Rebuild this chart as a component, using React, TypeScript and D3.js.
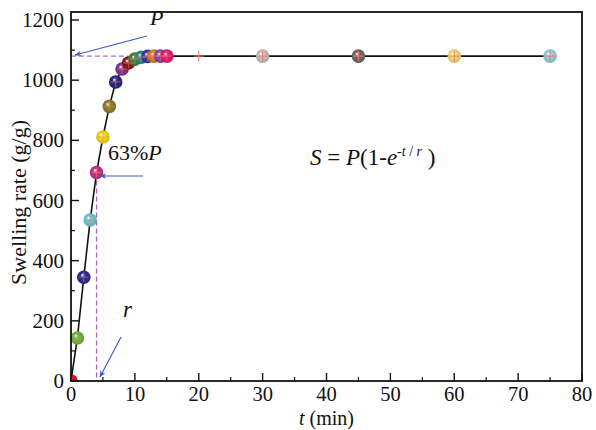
import React from "react";
import * as d3 from "d3";

const times = [0, 1, 2, 3, 4, 5, 6, 7, 8, 9, 10, 11, 12, 13, 14, 15, 20, 30, 45, 60, 75];
const swelling = [0, 143, 345, 535, 693, 811, 913, 994, 1037, 1057, 1070, 1076, 1079, 1080, 1080, 1080, 1080, 1080, 1080, 1080, 1080];
const ballColors = [
  "#e8191c", "#74c043", "#2e2f96", "#6fd0dc", "#c8358f", "#f8e21c", "#8f8431",
  "#2b2a86", "#8c3596", "#8e1a22", "#3f8a3a", "#2b8c8c", "#3c3ca6", "#f0821e",
  "#8a4db4", "#ec1d7a", "#ffffff", "#c9c9c9", "#6e6e6e", "#f7e77a", "#9fd7ea",
];
const xTicks = [0, 10, 20, 30, 40, 50, 60, 70, 80];
const yTicks = [0, 200, 400, 600, 800, 1000, 1200];
const xMinor = [5, 15, 25, 35, 45, 55, 65, 75];
const yMinor = [100, 300, 500, 700, 900, 1100];
const P = 1080;
const rTime = 4;
const S63 = 693;

const W = 596;
const H = 430;
const L = 71;
const R = 582;
const T = 12;
const B = 381;

export default function App() {
  const x = d3.scaleLinear().domain([0, 80]).range([L, R]);
  const y = d3.scaleLinear().domain([0, 1200]).range([B, 20]);
  const line = d3
    .line<number>()
    .x((_, i) => x(times[i]))
    .y((d) => y(d));
  const font = "'Liberation Serif', 'Times New Roman', serif";
  const rBall = 6.8;
  return (
    <svg
      width={W}
      height={H}
      style={{ position: "absolute", left: 0, top: 0, background: "#fff" }}
      fontFamily={font}
    >
      <defs>
        <clipPath id="plot">
          <rect x={L} y={T} width={R - L} height={B - T} />
        </clipPath>
        {ballColors.map((c, i) => (
          <radialGradient key={i} id={`ball${i}`} cx="50%" cy="50%" r="55%" fx="38%" fy="32%">
            <stop offset="0%" stopColor="#ffffff" stopOpacity={0.9} />
            <stop offset="30%" stopColor={c} />
            <stop offset="100%" stopColor={d3.color(c)!.darker(0.6).toString()} />
          </radialGradient>
        ))}
        <marker id="arr" viewBox="0 0 10 10" refX="9" refY="5" markerWidth="9" markerHeight="7" orient="auto" markerUnits="userSpaceOnUse">
          <path d="M0,1 L10,5 L0,9 L3,5 Z" fill="#3d5cc4" />
        </marker>
      </defs>

      {/* dashed guide lines */}
      <line x1={x(0)} x2={x(9)} y1={y(P)} y2={y(P)} stroke="#a575c8" strokeWidth={1.3} strokeDasharray="5,3" />
      <line x1={x(rTime)} x2={x(rTime)} y1={y(S63)} y2={y(0)} stroke="#b45ab8" strokeWidth={1.3} strokeDasharray="5,3" />

      {/* curve */}
      <g clipPath="url(#plot)">
        <path d={line(swelling) || ""} fill="none" stroke="#111" strokeWidth={1.6} />
        {swelling.map((s, i) =>
          ballColors[i] === "#ffffff" ? null : (
            <circle key={i} cx={x(times[i])} cy={y(s)} r={rBall} fill={`url(#ball${i})`} />
          )
        )}
        {swelling.map((s, i) => (
          <g key={"c" + i} stroke="#f07a64" strokeWidth={1.1} opacity={i >= 16 ? 0.95 : 0.55}>
            <line x1={x(times[i]) - 5} x2={x(times[i]) + 5} y1={y(s)} y2={y(s)} />
            <line x1={x(times[i])} x2={x(times[i])} y1={y(s) - 5} y2={y(s) + 5} />
          </g>
        ))}
      </g>

      {/* frame */}
      <rect x={L} y={T} width={R - L} height={B - T} fill="none" stroke="#111" strokeWidth={1.8} />

      {/* ticks */}
      {xTicks.map((t) => (
        <g key={"xt" + t}>
          <line x1={x(t)} x2={x(t)} y1={B} y2={B - 8} stroke="#111" strokeWidth={1.4} />
          <text x={x(t)} y={B + 20} fontSize={20.5} textAnchor="middle" fill="#111">{t}</text>
        </g>
      ))}
      {xMinor.map((t) => (
        <line key={"xm" + t} x1={x(t)} x2={x(t)} y1={B} y2={B - 4} stroke="#111" strokeWidth={1.2} />
      ))}
      {yTicks.map((v) => (
        <g key={"yt" + v}>
          <line x1={L} x2={L + 8} y1={y(v)} y2={y(v)} stroke="#111" strokeWidth={1.4} />
          <text x={L - 7} y={y(v) + 7} fontSize={21} textAnchor="end" fill="#111">{v}</text>
        </g>
      ))}
      {yMinor.map((v) => (
        <line key={"ym" + v} x1={L} x2={L + 4} y1={y(v)} y2={y(v)} stroke="#111" strokeWidth={1.2} />
      ))}

      {/* axis titles */}
      <text x={(L + R) / 2} y={425} fontSize={20} textAnchor="middle" fill="#111">
        <tspan fontStyle="italic">t</tspan> (min)
      </text>
      <text transform={`translate(26,${(T + B) / 2 + 6}) rotate(-90)`} fontSize={22} textAnchor="middle" fill="#111">
        Swelling rate (g/g)
      </text>

      {/* annotations */}
      <text x={150} y={25} fontSize={22} fontStyle="italic" fill="#111">P</text>
      <line x1={147} y1={36} x2={75} y2={55} stroke="#3d5cc4" strokeWidth={1.2} markerEnd="url(#arr)" />
      <text x={108} y={160} fontSize={22} fill="#111">
        63%<tspan fontStyle="italic">P</tspan>
      </text>
      <line x1={143} y1={176} x2={100} y2={176} stroke="#3d5cc4" strokeWidth={1.2} markerEnd="url(#arr)" />
      <text x={123} y={317} fontSize={23} fontStyle="italic" fill="#111">r</text>
      <line x1={121} y1={337} x2={100} y2={377} stroke="#3d5cc4" strokeWidth={1.2} markerEnd="url(#arr)" />
      <text x={310} y={165} fontSize={23} fill="#111">
        <tspan fontStyle="italic">S</tspan> = <tspan fontStyle="italic">P</tspan>(1-<tspan fontStyle="italic">e</tspan>
        <tspan dy={-9} fontSize={14}>-</tspan>
        <tspan fontSize={14} fontStyle="italic">t</tspan>
        <tspan fontSize={14}> / </tspan>
        <tspan fontSize={14} fontStyle="italic">r</tspan>
        <tspan dy={9}> )</tspan>
      </text>
    </svg>
  );
}
